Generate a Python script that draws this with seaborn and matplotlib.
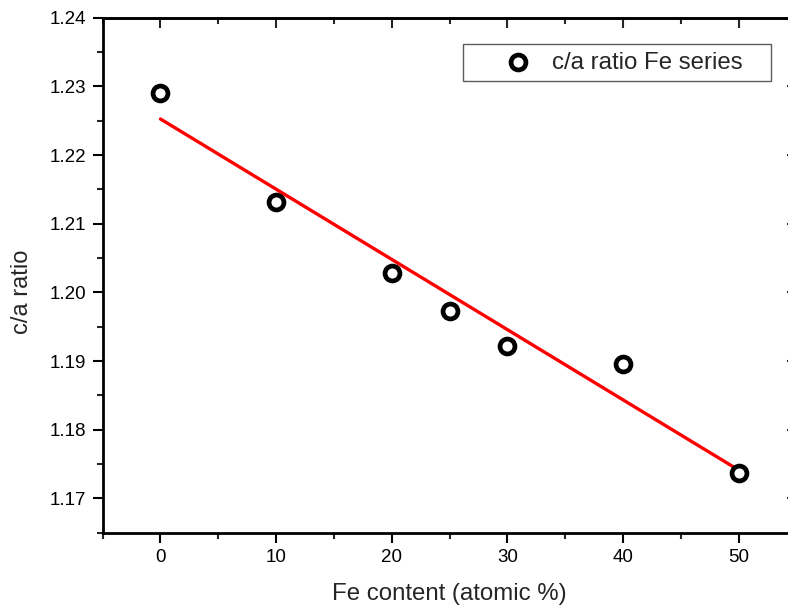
import matplotlib.pyplot as plt
import seaborn as sns
import pandas as pd
from matplotlib.ticker import MultipleLocator

# Fe content vs c/a ratio
fe_content = [0, 10, 20, 25, 30, 40, 50]
ca_ratio = [1.2290, 1.2132, 1.2028, 1.1973, 1.1922, 1.1896, 1.1737]
y_ticks = [1.17, 1.18, 1.19, 1.20, 1.21, 1.22, 1.23, 1.24]
y_labels = ["1.17", "1.18", "1.19", "1.20", "1.21", "1.22", "1.23", "1.24"]

df = pd.DataFrame({"Fe": fe_content, "ca": ca_ratio})

sns.set_style("ticks")
plt.rcParams['font.family'] = ['Liberation Sans', 'DejaVu Sans']

fig = plt.figure(figsize=(7.88, 6.09), dpi=100)
# right spine sits just beyond the figure edge, like the original crop
ax = fig.add_axes([0.1303, 0.1253, 0.8805, 0.8456])

sns.regplot(x="Fe", y="ca", data=df, ax=ax, ci=None, scatter=False,
            line_kws={"color": "red", "lw": 2.4})
sns.scatterplot(x="Fe", y="ca", data=df, ax=ax, marker="o", s=115,
                facecolor="white", edgecolor="black", linewidth=3.4,
                label="c/a ratio Fe series", zorder=3)

ax.set_xlim(-5, 55)
ax.set_ylim(1.165, 1.24)
ax.xaxis.set_major_locator(MultipleLocator(10))
ax.xaxis.set_minor_locator(MultipleLocator(5))
ax.yaxis.set_minor_locator(MultipleLocator(0.005))
ax.set_yticks(y_ticks)
ax.set_yticklabels(y_labels)

for s in ax.spines.values():
    s.set_linewidth(2)
    s.set_color("black")

ax.tick_params(axis="both", which="major", length=7, width=1.5, direction="out",
               labelsize=13.5, colors="black", pad=5)
ax.tick_params(axis="both", which="minor", length=4.3, width=1.5, direction="out")

# top and right axes with inward ticks, no labels
top = ax.secondary_xaxis("top")
top.xaxis.set_major_locator(MultipleLocator(10))
top.xaxis.set_minor_locator(MultipleLocator(5))
top.tick_params(which="major", direction="in", length=7, width=1.5, labeltop=False)
top.tick_params(which="minor", direction="in", length=4.3, width=1.5)
right = ax.secondary_yaxis("right")
right.yaxis.set_major_locator(MultipleLocator(0.01))
right.yaxis.set_minor_locator(MultipleLocator(0.005))
right.tick_params(which="major", direction="in", length=7, width=1.5, labelright=False)
right.tick_params(which="minor", direction="in", length=4.3, width=1.5)
for sec in (top, right):
    for s in sec.spines.values():
        s.set_linewidth(2)

ax.set_xlabel("Fe content (atomic %)", fontsize=17.3, labelpad=12)
ax.set_ylabel("c/a ratio", fontsize=17)
ax.yaxis.set_label_coords(-0.1005, 0.468)

# expanded legend box: extra room ends up on the right, as in the original
leg = ax.legend(loc="upper left", bbox_to_anchor=(0.5193, 0.8, 0.444, 0.149),
                mode="expand", borderaxespad=0, fontsize=17.3, frameon=True,
                fancybox=False, borderpad=0.32, handlelength=3.92,
                handletextpad=-0.55)
leg.get_frame().set_edgecolor("#333333")
leg.get_frame().set_linewidth(1.0)

plt.savefig("out.png", dpi=100)
